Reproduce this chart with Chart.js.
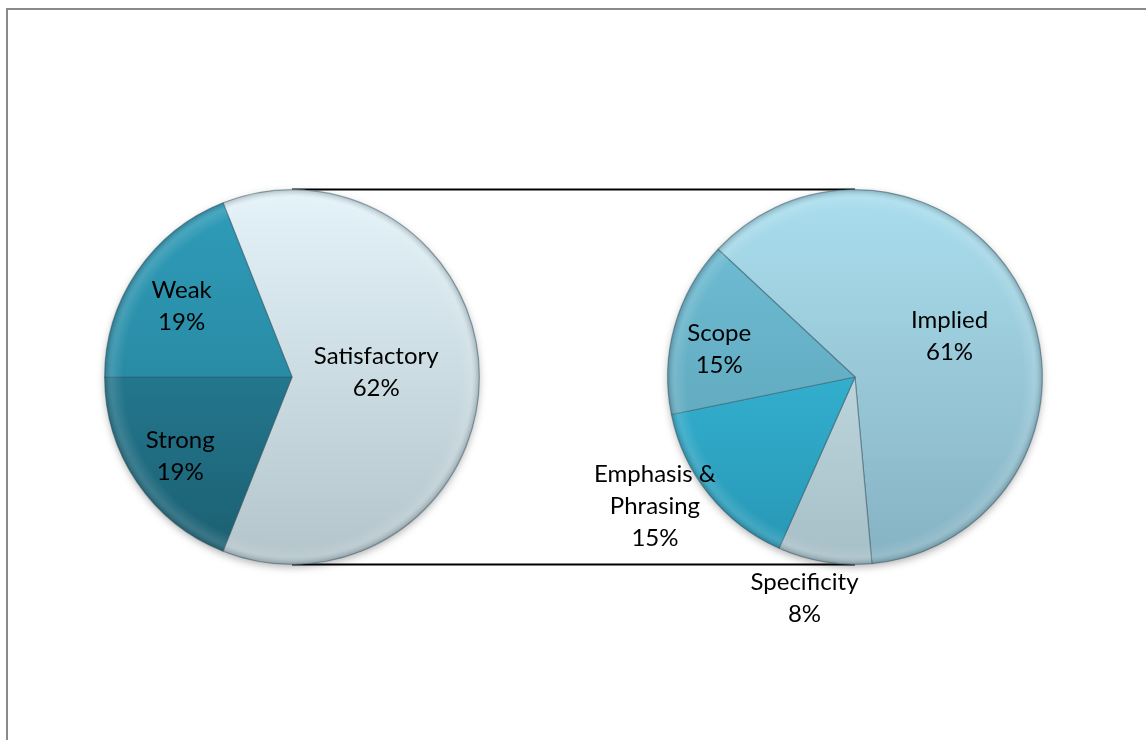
<!DOCTYPE html>
<html>
<head>
<meta charset="utf-8">
<script src="https://cdn.jsdelivr.net/npm/chart.js@4.4.1/dist/chart.umd.min.js"></script>
<style>
  html, body { margin: 0; padding: 0; background: #fff; overflow: hidden; }
  #frame { position: absolute; left: 6px; top: 8px; width: 1200px; height: 800px;
           border-top: 2px solid #8a8a8a; border-left: 2px solid #8a8a8a; }
  #lines { position: absolute; left: 0; top: 0; }
  .pie { position: absolute; }
</style>
</head>
<body>
<div id="frame"></div>
<canvas id="lines" width="1146" height="740"></canvas>
<div class="pie" style="left:92px; top:177px; width:400px; height:400px;"><canvas id="leftPie"></canvas></div>
<div class="pie" style="left:555px; top:127px; width:600px; height:500px;"><canvas id="rightPie"></canvas></div>
<script>
// --- data ---
const mainLabels = ['Satisfactory', 'Strong', 'Weak'];
const mainValues = [62, 19, 19];
const otherLabels = ['Implied', 'Specificity', 'Emphasis & Phrasing', 'Scope'];
const otherValues = [61, 8, 15, 15];

// --- styles ---
const mainColors = [['#e3f3f9', '#b3c4ca'], ['#2c8fab', '#1b5e70'], ['#2f9dba', '#237a90']];
const otherColors = [['#aadeee', '#86b2c2'], ['#d2eaf2', '#a6bec6'], ['#40c6e6', '#2696b4'], ['#70c0d8', '#5a9eb2']];
// label placement: fraction of radius, angle offset in degrees
const mainLabelPos = [[0.45, -3], [0.73, -1], [0.70, -1.5]];
const otherLabelPos = [[0.55, 2.6], [1.21, 3.5], [1.27, 6], [0.74, -4]];

function gradientFill(colors) {
    return function(context) {
        const c = colors[context.dataIndex];
        const area = context.chart.chartArea;
        if (!area) return c[0];
        const g = context.chart.ctx.createLinearGradient(0, area.top, 0, area.bottom);
        g.addColorStop(0, c[0]);
        g.addColorStop(1, c[1]);
        return g;
    };
}

function wrapText(ctx, text, maxWidth) {
    const words = text.split(' ');
    const lines = [];
    let line = '';
    words.forEach(function(w) {
        const test = line ? line + ' ' + w : w;
        if (line && ctx.measureText(test).width > maxWidth) {
            lines.push(line);
            line = w;
        } else {
            line = test;
        }
    });
    if (line) lines.push(line);
    return lines;
}

// shadow under the pie and a bevelled rim on top
const bevelPlugin = {
    id: 'bevel',
    beforeDatasetsDraw(chart) {
        const arc = chart.getDatasetMeta(0).data[0];
        const ctx = chart.ctx;
        ctx.save();
        ctx.shadowColor = 'rgba(0,0,0,0.35)';
        ctx.shadowBlur = 8;
        ctx.shadowOffsetY = 3;
        ctx.fillStyle = '#ccc';
        ctx.beginPath();
        ctx.arc(arc.x, arc.y, arc.outerRadius - 1, 0, Math.PI * 2);
        ctx.fill();
        ctx.restore();
    },
    afterDatasetsDraw(chart) {
        const arc = chart.getDatasetMeta(0).data[0];
        const ctx = chart.ctx;
        const r = arc.outerRadius;
        ctx.save();
        ctx.beginPath();
        ctx.arc(arc.x, arc.y, r, 0, Math.PI * 2);
        ctx.clip();
        const g = ctx.createRadialGradient(arc.x, arc.y, r * 0.9, arc.x, arc.y, r);
        g.addColorStop(0, 'rgba(255,255,255,0)');
        g.addColorStop(0.6, 'rgba(255,255,255,0.12)');
        g.addColorStop(1, 'rgba(40,60,70,0.28)');
        ctx.fillStyle = g;
        ctx.fillRect(arc.x - r, arc.y - r, r * 2, r * 2);
        ctx.restore();
    }
};

// category + percent labels placed along each slice's mid angle
const sliceLabels = {
    id: 'sliceLabels',
    afterDraw(chart, args, opts) {
        const ctx = chart.ctx;
        const labels = chart.data.labels;
        const values = chart.data.datasets[0].data;
        ctx.save();
        ctx.font = '24px Lato, "Open Sans", sans-serif';
        ctx.fillStyle = '#000';
        ctx.textAlign = 'center';
        ctx.textBaseline = 'middle';
        chart.getDatasetMeta(0).data.forEach(function(arc, i) {
            const p = opts.pos[i];
            const mid = (arc.startAngle + arc.endAngle) / 2 + p[1] * Math.PI / 180;
            const rr = arc.outerRadius * p[0];
            const x = arc.x + Math.cos(mid) * rr;
            const y = arc.y + Math.sin(mid) * rr;
            const lines = wrapText(ctx, labels[i], 140).concat([values[i] + '%']);
            const top = y - (lines.length - 1) * 32 / 2;
            lines.forEach(function(t, k) { ctx.fillText(t, x, top + k * 32); });
        });
        ctx.restore();
    }
};

function makePie(id, labels, values, colors, rotation, padding, pos) {
    return new Chart(document.getElementById(id), {
        type: 'pie',
        data: {
            labels: labels,
            datasets: [{
                data: values,
                backgroundColor: gradientFill(colors),
                borderColor: 'rgba(50,80,90,0.45)',
                borderWidth: 1.2,
                hoverOffset: 0
            }]
        },
        options: {
            responsive: true,
            maintainAspectRatio: false,
            animation: false,
            rotation: rotation,
            layout: { padding: padding },
            plugins: {
                legend: { display: false },
                tooltip: { enabled: false },
                sliceLabels: { pos: pos }
            }
        },
        plugins: [bevelPlugin, sliceLabels]
    });
}

const mainTotal = mainValues.reduce((a, b) => a + b, 0);
// the split-out slice is centred on the right side of the first pie
const mainRotation = 90 - (mainValues[0] / mainTotal) * 180;
const leftChart = makePie('leftPie', mainLabels, mainValues, mainColors, mainRotation, 12, mainLabelPos);
const rightChart = makePie('rightPie', otherLabels, otherValues, otherColors, 313,
    { left: 112, right: 112, top: 62, bottom: 62 }, otherLabelPos);

// connector lines between the two pies, drawn underneath
function drawConnectors() {
    const a = leftChart.getDatasetMeta(0).data[0];
    const b = rightChart.getDatasetMeta(0).data[0];
    const ra = leftChart.canvas.getBoundingClientRect();
    const rb = rightChart.canvas.getBoundingClientRect();
    const ctx = document.getElementById('lines').getContext('2d');
    ctx.strokeStyle = '#000';
    ctx.lineWidth = 2;
    [-1, 1].forEach(function(s) {
        ctx.beginPath();
        ctx.moveTo(ra.left + a.x, ra.top + a.y + s * a.outerRadius);
        ctx.lineTo(rb.left + b.x, rb.top + b.y + s * b.outerRadius);
        ctx.stroke();
    });
}
drawConnectors();
</script>
</body>
</html>
